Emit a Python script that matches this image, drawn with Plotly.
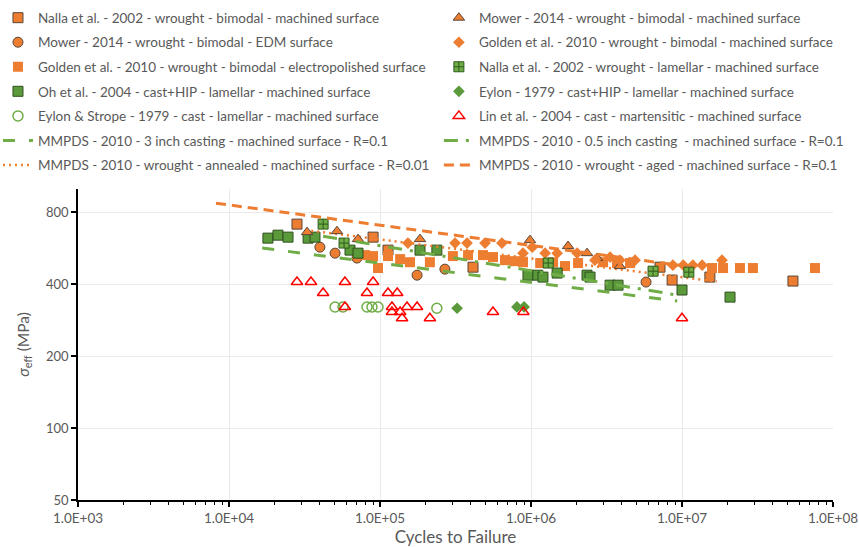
import plotly.graph_objects as go

# ---------------- data ----------------
nalla_bi_x = [2.82e4, 9.0e4, 1.13e5, 4.13e5, 7.15e6, 8.6e6, 1.53e7, 5.43e7]
nalla_bi_y = [713, 629, 555, 471, 471, 416, 428, 412]

mower_mach_x = [3.29e4, 5.19e4, 7.15e4, 1.84e5, 9.85e5, 1.76e6, 2.35e6, 2.74e6, 3.88e6]
mower_mach_y = [660, 666, 617, 617, 611, 577, 539, 514, 476]

mower_edm_x = [4.0e4, 5.04e4, 7.04e4, 1.76e5, 2.69e5, 5.78e6]
mower_edm_y = [571, 539, 514, 436, 462, 408]

golden_mach_x = [1.53e5, 3.14e5, 3.77e5, 4.96e5, 6.42e5, 8.85e5, 1.02e6, 1.24e6, 1.49e6, 2.02e6,
                 2.65e6, 3.34e6, 3.88e6, 4.89e6, 8.7e6, 1.02e7, 1.18e7, 1.36e7, 1.84e7]
golden_mach_y = [594, 594, 594, 594, 594, 539, 571, 539, 539, 539,
                 504, 519, 504, 504, 480, 480, 480, 480, 504]

golden_ep_x = [7.04e4, 7.96e4, 9.0e4, 9.7e4, 1.13e5, 1.36e5, 1.58e5, 2.14e5, 3.04e5, 3.83e5,
               4.81e5, 5.6e5, 6.73e5, 7.83e5, 8.85e5, 1.15e6, 1.40e6, 1.68e6, 2.05e6, 3.0e6,
               3.71e6, 4.53e6, 1.58e7, 1.87e7, 2.42e7, 2.95e7, 7.6e7]
golden_ep_y = [534, 529, 524, 467, 524, 509, 494, 494, 524, 529,
               529, 519, 504, 499, 494, 490, 494, 476, 490, 494,
               490, 490, 467, 467, 467, 467, 467]

nalla_lam_x = [4.2e4, 5.78e4, 1.30e6, 6.43e6, 1.11e7]
nalla_lam_y = [713, 594, 490, 453, 449]

oh_x = [1.81e4, 2.11e4, 2.46e4, 3.34e4, 3.71e4, 6.33e4, 7.15e4, 1.84e5, 2.38e5, 9.55e5,
        1.11e6, 1.20e6, 1.49e6, 2.35e6, 2.46e6, 3.34e6, 3.77e6, 1.0e7, 2.08e7]
oh_y = [623, 641, 629, 623, 629, 555, 539, 555, 555, 436,
        436, 428, 445, 436, 428, 396, 396, 378, 353]

eylon_hip_x = [3.24e5, 8.07e5, 9.0e5]
eylon_hip_y = [317, 321, 321]

eylon_strope_x = [5.04e4, 5.69e4, 8.2e4, 8.85e4, 9.7e4, 2.38e5]
eylon_strope_y = [321, 321, 321, 321, 321, 317]

lin_x = [2.82e4, 3.49e4, 4.2e4, 5.86e4, 5.86e4, 8.2e4, 9.0e4, 1.13e5, 1.30e5, 1.20e5,
         1.20e5, 1.36e5, 1.51e5, 1.76e5, 1.40e5, 2.14e5, 5.6e5, 8.9e5, 1.0e7]
lin_y = [408, 408, 367, 408, 321, 367, 408, 367, 367, 321,
         306, 306, 321, 321, 288, 288, 306, 306, 288]

mmpds_3in_x = [1.66e4, 9.3e6]
mmpds_3in_y = [566, 340]
mmpds_05in_x = [4.2e4, 9.3e6]
mmpds_05in_y = [635, 360]
mmpds_ann_x = [3.2e4, 1.7e7]
mmpds_ann_y = [673, 410]
mmpds_aged_x = [8.2e3, 1.0e7]
mmpds_aged_y = [872, 478]

x_tickvals = [1e3, 1e4, 1e5, 1e6, 1e7, 1e8]
x_ticktext = ["1.0E+03", "1.0E+04", "1.0E+05", "1.0E+06", "1.0E+07", "1.0E+08"]
y_tickvals = [50, 100, 200, 400, 800]
y_ticktext = ["50", "100", "200", "400", "800"]

# ---------------- styles ----------------
ORANGE = "#ED7D31"
GREEN = "#70AD47"
RED = "#FF0000"
OUT = "#5A4636"
TXT = "#595959"

fig = go.Figure()

def sc(x, y, name, symbol, color, size, lcolor=None, lwidth=0, legend="legend"):
    fig.add_trace(go.Scatter(
        x=x, y=y, name=name, mode="markers", legend=legend, legendgroup=name,
        marker=dict(symbol=symbol, color=color, size=size,
                    line=dict(color=lcolor if lcolor else color, width=lwidth))))

def ln(x, y, name, color, dash, width, legend="legend"):
    fig.add_trace(go.Scatter(
        x=x, y=y, name=name, mode="lines", legend=legend, legendgroup=name,
        line=dict(color=color, dash=dash, width=width)))

# left column (legend)
sc(nalla_bi_x, nalla_bi_y, "Nalla et al. - 2002 - wrought - bimodal - machined surface", "square", ORANGE, 10, OUT, 1)
sc(mower_edm_x, mower_edm_y, "Mower - 2014 - wrought - bimodal - EDM surface", "circle", ORANGE, 10, OUT, 1)
sc(golden_ep_x, golden_ep_y, "Golden et al. - 2010 - wrought - bimodal - electropolished surface", "square", ORANGE, 10)
sc(oh_x, oh_y, "Oh et al. - 2004 - cast+HIP - lamellar - machined surface", "square", "#5A9A3A", 10, "#2F4F1F", 1)
sc(eylon_strope_x, eylon_strope_y, "Eylon & Strope - 1979 - cast - lamellar - machined surface", "circle-open", GREEN, 10, GREEN, 1.5)
ln(mmpds_3in_x, mmpds_3in_y, "MMPDS - 2010 - 3 inch casting - machined surface - R=0.1", GREEN, "12px,14px", 3)
ln(mmpds_ann_x, mmpds_ann_y, "MMPDS - 2010 - wrought - annealed - machined surface - R=0.01", ORANGE, "2px,4px", 2.5)

# right column (legend2)
sc(mower_mach_x, mower_mach_y, "Mower - 2014 - wrought - bimodal - machined surface", "triangle-up", ORANGE, 10, OUT, 1, "legend2")
sc(golden_mach_x, golden_mach_y, "Golden et al. - 2010 - wrought - bimodal - machined surface", "diamond", ORANGE, 9, legend="legend2")
sc(nalla_lam_x, nalla_lam_y, "Nalla et al. - 2002 - wrought - lamellar - machined surface", "square-cross", GREEN, 10, "#2E5A1C", 1, "legend2")
sc(eylon_hip_x, eylon_hip_y, "Eylon - 1979 - cast+HIP - lamellar - machined surface", "diamond", "#5B9A3C", 9, legend="legend2")
sc(lin_x, lin_y, "Lin et al. - 2004 - cast - martensitic - machined surface", "triangle-up-open", RED, 10, RED, 1.5, "legend2")
ln(mmpds_05in_x, mmpds_05in_y, "MMPDS - 2010 - 0.5 inch casting  - machined surface - R=0.1", GREEN, "14px,8px,3px,8px", 3, "legend2")
ln(mmpds_aged_x, mmpds_aged_y, "MMPDS - 2010 - wrought - aged - machined surface - R=0.1", ORANGE, "10px,6px", 3, "legend2")

FONT = "Lato"
leg_common = dict(font=dict(family=FONT, size=13.5, color=TXT), bgcolor="rgba(0,0,0,0)",
                  tracegroupgap=4, yanchor="top", xanchor="left", itemwidth=30)

fig.update_layout(
    width=859, height=547,
    margin=dict(l=78, r=26, t=189, b=47, autoexpand=False),
    paper_bgcolor="white", plot_bgcolor="white",
    font=dict(family=FONT, size=13, color=TXT),
    legend=dict(x=-0.106, y=1.60, **leg_common),
    legend2=dict(x=0.478, y=1.60, **leg_common),
    xaxis=dict(type="log", range=[3, 8], tickvals=x_tickvals, ticktext=x_ticktext,
               automargin=False,
               showgrid=True, gridcolor="#EAEAEA", gridwidth=1,
               showline=True, linecolor="black", linewidth=1.5,
               ticks="outside", ticklen=5, tickcolor="black", tickwidth=1.5,
               minor=dict(tickvals=[k * 10 ** n for n in range(3, 8) for k in range(2, 10)],
                          ticks="outside", ticklen=3, tickcolor="black", tickwidth=1, showgrid=False),
               title=dict(text="Cycles to Failure", font=dict(size=17, color=TXT), standoff=11),
               tickfont=dict(size=13.5, color=TXT), zeroline=False),
    yaxis=dict(type="log", range=[1.69897, 3.0], tickvals=y_tickvals, ticktext=y_ticktext,
               automargin=False,
               showgrid=True, gridcolor="#EAEAEA", gridwidth=1,
               showline=True, linecolor="black", linewidth=1.5,
               ticks="outside", ticklen=5, tickcolor="black", tickwidth=1.5,
               title=dict(text="<i>σ</i><sub>eff</sub> (MPa)", font=dict(size=15.5, color=TXT), standoff=13),
               tickfont=dict(size=13, color=TXT), zeroline=False),
)

fig.write_html("out.html", post_script="document.body.style.margin='0';",
               config={"displayModeBar": False})
